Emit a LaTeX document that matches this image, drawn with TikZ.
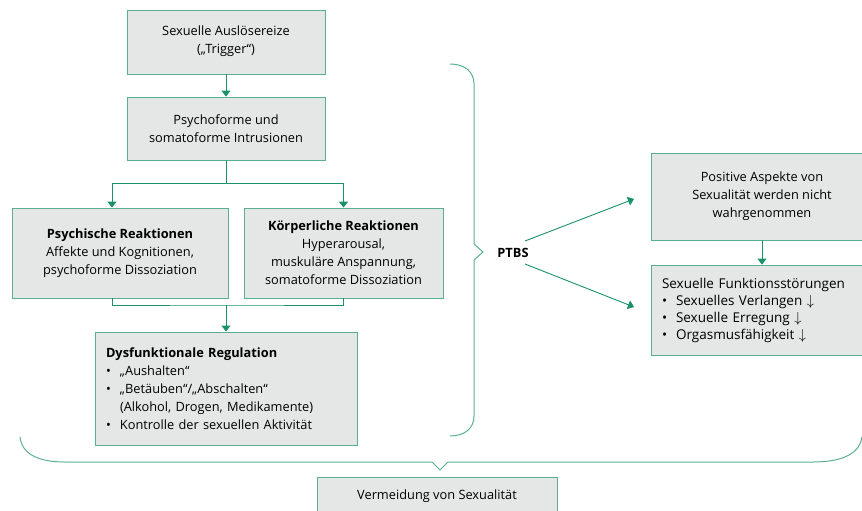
\documentclass[tikz,border=0pt]{standalone}
\usepackage{fontspec}
\setmainfont{Open Sans}
\usetikzlibrary{arrows.meta}

\definecolor{boxline}{RGB}{90,175,145}
\definecolor{boxfill}{RGB}{229,230,230}
\definecolor{arrowgreen}{RGB}{25,145,105}
\newcommand{\bul}{\makebox[14pt][l]{•}}
\newcommand{\dn}{\ $\downarrow$}

\begin{document}
\begin{tikzpicture}[x=1pt, y=-1pt,
  box/.style={draw=boxline, fill=boxfill, line width=0.9pt, align=center,
    inner sep=0pt, font=\fontsize{12.8}{18}\selectfont},
  listbox/.style={box, align=left, inner xsep=11pt},
  conn/.style={draw=arrowgreen, line width=0.9pt, -{Triangle[width=9pt,length=6pt]}},
  link/.style={draw=arrowgreen, line width=0.9pt},
  brace/.style={draw=boxline, line width=1pt}]

\clip (0,0) rectangle (862,511);

% left column
\node[box, minimum width=198pt, minimum height=64pt, text depth=4pt] (trig) at (226,42)
  {Sexuelle Auslösereize\\(„Trigger“)};
\node[box, minimum width=198pt, minimum height=63pt] (intru) at (226,128.5)
  {Psychoforme und\\somatoforme Intrusionen};
\node[box, minimum width=216pt, minimum height=90pt] (psy) at (120,253)
  {\textbf{Psychische Reaktionen}\\Affekte und Kognitionen,\\psychoforme Dissoziation};
\node[box, minimum width=199pt, minimum height=90pt] (koerp) at (343.5,253)
  {\textbf{Körperliche Reaktionen}\\Hyperarousal,\\muskuläre Anspannung,\\somatoforme Dissoziation};
\node[listbox, text width=240pt, minimum height=113pt] (dysf) at (226,388.5)
  {\textbf{Dysfunktionale Regulation}\\
   \bul„Aushalten“\\
   \bul„Betäuben“/„Abschalten“\\
   \hspace*{14pt}(Alkohol, Drogen, Medikamente)\\
   \bul Kontrolle der sexuellen Aktivität};

\draw[conn] (trig) -- (intru);
\draw[link] (intru.south) -- (226,183) coordinate (split);
\draw[conn] (split) -| ([xshift=-8pt]psy.north);
\draw[conn] (split) -| (koerp.north);
\draw[link] ([xshift=-8pt]psy.south) |- (226,305) coordinate (merge) -| (koerp.south);
\draw[conn] (merge) -- (dysf.north);

% brace and PTBS
\draw[brace] (450,64) .. controls (465,64) and (474,72) .. (474,84) -- (474,244)
  -- (483,252) -- (474,260) -- (474,416) .. controls (474,428) and (465,436) .. (450,436);
\node[font=\fontsize{12.8}{18}\selectfont\bfseries] (ptbs) at (513,253) {PTBS};

% right column
\node[box, minimum width=222pt, minimum height=87pt] (pos) at (762,196.5)
  {Positive Aspekte von\\Sexualität werden nicht\\wahrgenommen};
\node[listbox, text width=200pt, minimum height=90pt, font=\fontsize{13.5}{17}\selectfont] (funk) at (762,310)
  {Sexuelle Funktionsstörungen\\
   \bul Sexuelles Verlangen\dn\\
   \bul Sexuelle Erregung\dn\\
   \bul Orgasmusfähigkeit\dn};
\draw[conn] (pos) -- (funk);

\coordinate (up) at (525,241);
\coordinate (down) at (525,264);
\coordinate (posin) at (634,199);
\coordinate (funkin) at (634,307);
\draw[conn] (up) -- (posin);
\draw[conn] (down) -- (funkin);

% bottom
\draw[brace] (20,437) .. controls (22,455) and (40,462) .. (65,462) -- (432,462)
  -- (440,470) -- (448,462) -- (813,462) .. controls (845,462) and (860,452) .. (862,437);
\node[box, minimum width=240pt, minimum height=38pt] (verm) at (437,496)
  {Vermeidung von Sexualität};

\end{tikzpicture}
\end{document}
